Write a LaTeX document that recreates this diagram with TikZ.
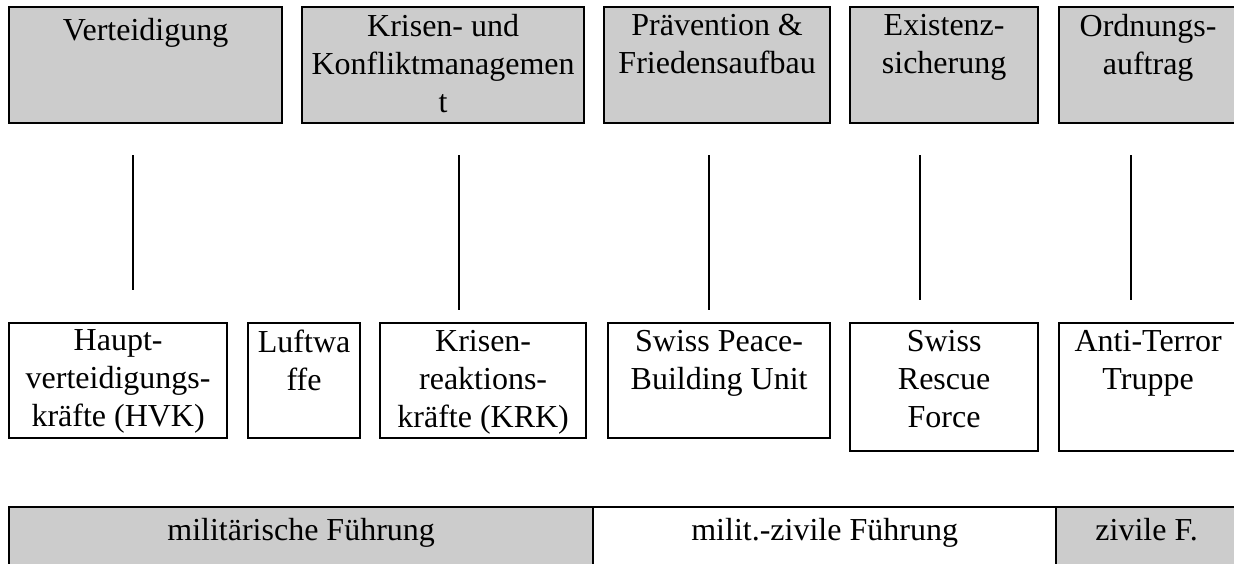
\documentclass[tikz,border=0pt]{standalone}
\usepackage{fontspec}
\setmainfont{Liberation Serif}
\usepackage{tikz}
\usetikzlibrary{positioning}

\begin{document}
\begin{tikzpicture}[
    x=0.4pt, y=-0.4pt,
    task/.style={draw, fill=black!20, line width=0.9pt, anchor=north west, minimum height=46.4pt, inner sep=0pt},
    unit/.style={draw, fill=white, line width=0.9pt, anchor=north west, minimum height=46pt, inner sep=0pt},
    lead/.style={draw, line width=0.9pt, anchor=north west, minimum height=25.6pt, inner sep=0pt},
    txt/.style={font=\fontsize{12.8}{15.2}\selectfont, align=center, inner sep=0pt, anchor=north, yshift=-2.96pt, execute at begin node=\strut},
    link/.style={line width=0.6pt}
]
\useasboundingbox (0,0) rectangle (1234,563);
\clip (0,0) rectangle (1234,563);

% Aufgaben
\node [task, minimum width=109.2pt] (vert)  at (8,6)    {};
\node [task, minimum width=112.8pt] (krise) at (301,6)  {};
\node [task, minimum width=90.4pt]  (praev) at (603,6)  {};
\node [task, minimum width=75.2pt]  (exist) at (849,6)  {};
\node [task, minimum width=71.2pt]  (ordn)  at (1058,6) {};

\node [txt] (vert-t)  at (vert.north)  {Verteidigung};
\node [txt] (krise-t) at (krise.north) {Krisen- und\\Konfliktmanagemen\\t};
\node [txt] (praev-t) at (praev.north) {Prävention \&\\Friedensaufbau};
\node [txt] (exist-t) at (exist.north) {Existenz-\\sicherung};
\node [txt] (ordn-t)  at (ordn.north)  {Ordnungs-\\auftrag};

% Verbindungen
\coordinate (l1a) at (133,155);  \coordinate (l1b) at (133,290);
\coordinate (l2a) at (459,155);  \coordinate (l2b) at (459,310);
\coordinate (l3a) at (709,155);  \coordinate (l3b) at (709,310);
\coordinate (l4a) at (920,155);  \coordinate (l4b) at (920,300);
\coordinate (l5a) at (1131,155); \coordinate (l5b) at (1131,300);
\draw [link] (l1a) -- (l1b);
\draw [link] (l2a) -- (l2b);
\draw [link] (l3a) -- (l3b);
\draw [link] (l4a) -- (l4b);
\draw [link] (l5a) -- (l5b);

% Kräfte
\node [unit, minimum width=87.2pt] (hvk)    at (8,322)    {};
\node [unit, minimum width=44.8pt] (luft)   at (247,322)  {};
\node [unit, minimum width=82.4pt] (krk)    at (379,322)  {};
\node [unit, minimum width=88.8pt] (peace)  at (607,322)  {};
\node [unit, minimum width=75.2pt, minimum height=51.2pt] (rescue) at (849,322)  {};
\node [unit, minimum width=71.2pt, minimum height=51.2pt] (anti)   at (1058,322) {};

\node [txt] (hvk-t)    at (hvk.north)    {Haupt-\\verteidigungs-\\kräfte (HVK)};
\node [txt] (luft-t)   at (luft.north)   {Luftwa\\ffe};
\node [txt] (krk-t)    at (krk.north)    {Krisen-\\reaktions-\\kräfte (KRK)};
\node [txt] (peace-t)  at (peace.north)  {Swiss Peace-\\Building Unit};
\node [txt] (rescue-t) at (rescue.north) {Swiss\\Rescue\\Force};
\node [txt] (anti-t)   at (anti.north)   {Anti-Terror\\Truppe};

% Führung
\node [lead, fill=black!20, minimum width=233.6pt] (mil)  at (8,506)    {};
\node [lead, fill=white,    minimum width=185.2pt] (mz)   at (592,506)  {};
\node [lead, fill=black!20, minimum width=72.4pt]  (ziv)  at (1055,506) {};

\node [txt] (mil-t) at (mil.north) {militärische Führung};
\node [txt] (mz-t)  at (mz.north)  {milit.-zivile Führung};
\node [txt] (ziv-t) at (ziv.north) {zivile F.};

\end{tikzpicture}
\end{document}
